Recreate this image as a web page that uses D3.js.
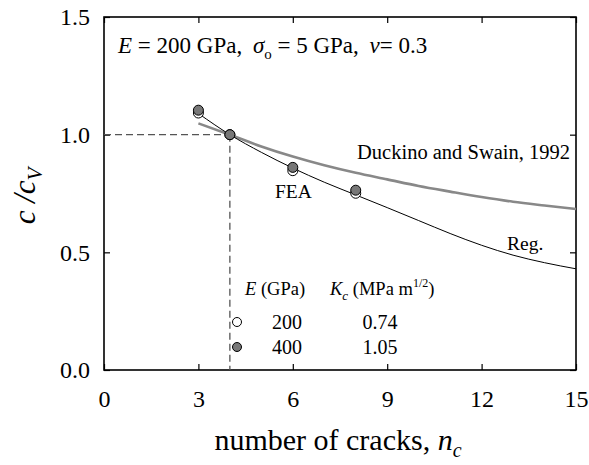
<!DOCTYPE html>
<html>
<head>
<meta charset="utf-8">
<script src="https://cdn.jsdelivr.net/npm/d3@7"></script>
</head>
<body style="margin:0; background:#fff">
<script>
// FEA results, c/cV vs number of cracks
var fea200 = [[3, 1.092], [4, 1.0], [6, 0.847], [8, 0.751]];
var fea400 = [[3, 1.104], [4, 1.0], [6, 0.861], [8, 0.764]];
// regression curve
var regN = [3, 4, 5, 6, 7, 8, 9, 10, 11, 12, 13, 14, 15];
var regV = [1.09, 1.0, 0.925, 0.858, 0.798, 0.744, 0.69, 0.635, 0.58, 0.53, 0.488, 0.456, 0.43];
// Duckino and Swain, 1992
var dsN = [3, 4, 5, 6, 7, 8, 9, 10, 11, 12, 13, 14, 15];
var dsV = [1.048, 1.0, 0.95, 0.907, 0.87, 0.838, 0.81, 0.782, 0.758, 0.735, 0.715, 0.699, 0.684];
var xTicks = [0, 3, 6, 9, 12, 15];
var yTicks = [0, 0.5, 1.0, 1.5];
var legendE = ["200", "400"];
var legendK = ["0.74", "1.05"];
var nv = 4; // crossing point

var W = 589, H = 465;
var m = {left: 104, right: 13, top: 17, bottom: 95};

var svg = d3.select("body").append("svg").attr("width", W).attr("height", H);

var x = d3.scaleLinear().domain([0, 15]).range([m.left, W - m.right]);
var y = d3.scaleLinear().domain([0, 1.5]).range([H - m.bottom, m.top]);

// ticks, inward on all sides
var tickLen = 6;
svg.append("g").attr("transform", "translate(0," + y(0) + ")")
  .call(d3.axisBottom(x).tickValues(xTicks).tickSizeInner(-tickLen).tickSizeOuter(0).tickPadding(20))
  .call(function(g) { g.select(".domain").remove(); });
svg.append("g").attr("transform", "translate(0," + y(1.5) + ")")
  .call(d3.axisTop(x).tickValues(xTicks).tickSizeInner(-tickLen).tickSizeOuter(0).tickFormat(""))
  .call(function(g) { g.select(".domain").remove(); });
svg.append("g").attr("transform", "translate(" + x(0) + ",0)")
  .call(d3.axisLeft(y).tickValues(yTicks).tickSizeInner(-tickLen).tickSizeOuter(0).tickPadding(14).tickFormat(d3.format(".1f")))
  .call(function(g) { g.select(".domain").remove(); });
svg.append("g").attr("transform", "translate(" + x(15) + ",0)")
  .call(d3.axisRight(y).tickValues(yTicks).tickSizeInner(-tickLen).tickSizeOuter(0).tickFormat(""))
  .call(function(g) { g.select(".domain").remove(); });

svg.selectAll(".tick line").attr("stroke", "#000").attr("stroke-width", 1.2);
svg.selectAll(".tick text").style("font-size", "24px").attr("fill", "#000");

// frame
svg.append("rect")
  .attr("x", x(0)).attr("y", y(1.5))
  .attr("width", x(15) - x(0)).attr("height", y(0) - y(1.5))
  .attr("fill", "none").attr("stroke", "#000").attr("stroke-width", 1.6);

var line = d3.line().curve(d3.curveMonotoneX)
  .x(function(d) { return x(d[0]); })
  .y(function(d) { return y(d[1]); });

// Duckino and Swain
svg.append("path")
  .attr("d", line(d3.zip(dsN, dsV)))
  .attr("fill", "none").attr("stroke", "#888").attr("stroke-width", 2.6);

// regression
svg.append("path")
  .attr("d", line(d3.zip(regN, regV)))
  .attr("fill", "none").attr("stroke", "#000").attr("stroke-width", 1);

// dashed guides at n = 4
svg.append("line")
  .attr("x1", x(0)).attr("x2", x(nv)).attr("y1", y(1)).attr("y2", y(1))
  .attr("stroke", "#555").attr("stroke-width", 1.3).attr("stroke-dasharray", "7,4");
svg.append("line")
  .attr("x1", x(nv)).attr("x2", x(nv)).attr("y1", y(1)).attr("y2", y(0))
  .attr("stroke", "#555").attr("stroke-width", 1.3).attr("stroke-dasharray", "7,4");

// points
svg.selectAll(".p200").data(fea200).enter().append("circle")
  .attr("cx", function(d) { return x(d[0]); })
  .attr("cy", function(d) { return y(d[1]); })
  .attr("r", 5).attr("fill", "#fff").attr("stroke", "#000").attr("stroke-width", 1);
svg.selectAll(".p400").data(fea400).enter().append("circle")
  .attr("cx", function(d) { return x(d[0]); })
  .attr("cy", function(d) { return y(d[1]); })
  .attr("r", 5).attr("fill", "#777").attr("stroke", "#000").attr("stroke-width", 1);

// top annotation
var t = svg.append("text").attr("x", 118).attr("y", 53).style("font-size", "23px");
t.append("tspan").style("font-style", "italic").text("E");
t.append("tspan").text(" = 200 GPa, ");
t.append("tspan").attr("dx", 5).style("font-style", "italic").text("σ");
t.append("tspan").attr("dy", 6).style("font-size", "15px").text("o");
t.append("tspan").attr("dy", -6).text(" = 5 GPa, ");
t.append("tspan").attr("dx", 5).style("font-style", "italic").text("ν");
t.append("tspan").text("= 0.3");

svg.append("text").attr("x", 570).attr("y", 159).attr("text-anchor", "end")
  .style("font-size", "20.5px").text("Duckino and Swain, 1992");
svg.append("text").attr("x", 275).attr("y", 198).style("font-size", "19.5px").text("FEA");
svg.append("text").attr("x", 507).attr("y", 250).style("font-size", "19.5px").text("Reg.");

// legend table
var lg = svg.append("g");
var h1 = lg.append("text").attr("x", 245).attr("y", 295).style("font-size", "18.5px");
h1.append("tspan").style("font-style", "italic").text("E");
h1.append("tspan").text(" (GPa)");
var h2 = lg.append("text").attr("x", 330).attr("y", 295).style("font-size", "18.5px");
h2.append("tspan").style("font-style", "italic").text("K");
h2.append("tspan").attr("dy", 5).style("font-size", "13px").style("font-style", "italic").text("c");
h2.append("tspan").attr("dy", -5).text(" (MPa m");
h2.append("tspan").attr("dy", -8).style("font-size", "12px").text("1/2");
h2.append("tspan").attr("dy", 8).text(")");

var rowY = [322, 347];
lg.selectAll(".lm").data(rowY).enter().append("circle")
  .attr("cx", 237).attr("cy", function(d) { return d; }).attr("r", 4.5)
  .attr("fill", function(d, i) { return i == 0 ? "#fff" : "#777"; })
  .attr("stroke", "#000").attr("stroke-width", 1);
lg.selectAll(".le").data(legendE).enter().append("text")
  .attr("x", 287).attr("y", function(d, i) { return rowY[i] + 7; })
  .attr("text-anchor", "middle").style("font-size", "20px").text(function(d) { return d; });
lg.selectAll(".lk").data(legendK).enter().append("text")
  .attr("x", 380).attr("y", function(d, i) { return rowY[i] + 7; })
  .attr("text-anchor", "middle").style("font-size", "20px").text(function(d) { return d; });

// axis titles
var xt = svg.append("text").attr("x", 338).attr("y", 450).attr("text-anchor", "middle").style("font-size", "30px");
xt.append("tspan").text("number of cracks, ");
xt.append("tspan").style("font-style", "italic").text("n");
xt.append("tspan").attr("dy", 7).style("font-size", "20px").style("font-style", "italic").text("c");

var yt = svg.append("text").attr("transform", "translate(35,196) rotate(-90)")
  .attr("text-anchor", "middle").style("font-size", "31px").style("font-style", "italic");
yt.append("tspan").text("c /c");
yt.append("tspan").attr("dy", 7).style("font-size", "21px").text("V");

svg.selectAll("text").style("font-family", "'Liberation Serif'");
</script>
</body>
</html>
